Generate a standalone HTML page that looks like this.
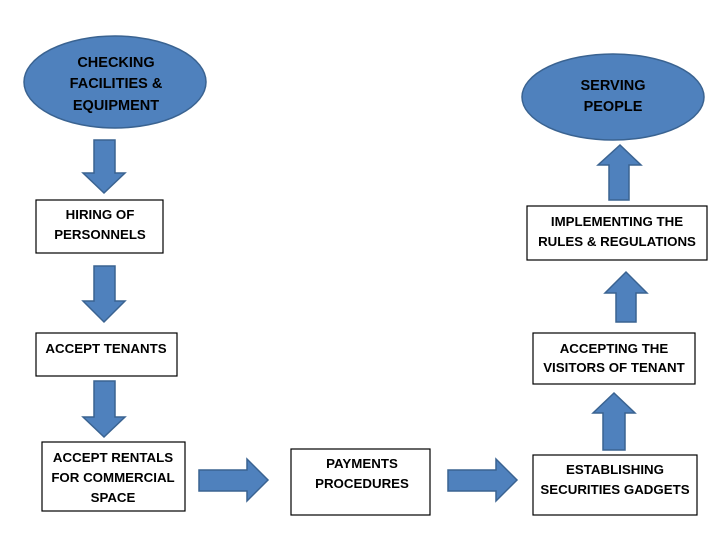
<!DOCTYPE html>
<html><head><style>
body{margin:0;background:#fff;}
svg text{font-family:"Liberation Sans",sans-serif;font-weight:bold;font-size:13.3px;fill:#000;}
svg text.e{font-size:14.5px;}
</style></head><body>
<svg width="728" height="546" viewBox="0 0 728 546" xmlns="http://www.w3.org/2000/svg">
<g fill="#4f81bd" stroke="#3a6391" stroke-width="1.5">
<ellipse cx="115" cy="82" rx="91" ry="46"/>
<ellipse cx="613" cy="97" rx="91" ry="43"/>
<polygon points="94,140 115,140 115,173 125,173 104,193 83,173 94,173"/>
<polygon points="94,266 115,266 115,301 125,301 104,322 83,301 94,301"/>
<polygon points="94,381 115,381 115,417 125,417 104,437 83,417 94,417"/>
<polygon points="199,470 247,470 247,459 268,480 247,501 247,491 199,491"/>
<polygon points="448,470 496,470 496,459 517,480 496,501 496,491 448,491"/>
<polygon points="603,450 625,450 625,413 635,413 614,393 593,413 603,413"/>
<polygon points="616,322 636,322 636,293 647,293 626,272 605,293 616,293"/>
<polygon points="609,200 629,200 629,165 641,165 620,145 598,165 609,165"/>
</g>
<g fill="#fff" stroke="#000" stroke-width="1.2">
<rect x="36" y="200" width="127" height="53"/>
<rect x="36" y="333" width="141" height="43"/>
<rect x="42" y="442" width="143" height="69"/>
<rect x="291" y="449" width="139" height="66"/>
<rect x="533" y="455" width="164" height="60"/>
<rect x="533" y="333" width="162" height="51"/>
<rect x="527" y="206" width="180" height="54"/>
</g>
<g text-anchor="middle">
<text class="e" x="116" y="67">CHECKING</text>
<text class="e" x="116" y="88">FACILITIES &amp;</text>
<text class="e" x="116" y="110">EQUIPMENT</text>
<text class="e" x="613" y="90">SERVING</text>
<text class="e" x="613" y="111">PEOPLE</text>
<text x="100" y="219">HIRING OF</text>
<text x="100" y="239">PERSONNELS</text>
<text x="106" y="353">ACCEPT TENANTS</text>
<text x="113" y="462">ACCEPT RENTALS</text>
<text x="113" y="482">FOR COMMERCIAL</text>
<text x="113" y="502">SPACE</text>
<text x="362" y="468">PAYMENTS</text>
<text x="362" y="488">PROCEDURES</text>
<text x="615" y="474">ESTABLISHING</text>
<text x="615" y="494">SECURITIES GADGETS</text>
<text x="614" y="353">ACCEPTING THE</text>
<text x="614" y="372">VISITORS OF TENANT</text>
<text x="617" y="226">IMPLEMENTING THE</text>
<text x="617" y="246">RULES &amp; REGULATIONS</text>
</g>
</svg>
</body></html>
